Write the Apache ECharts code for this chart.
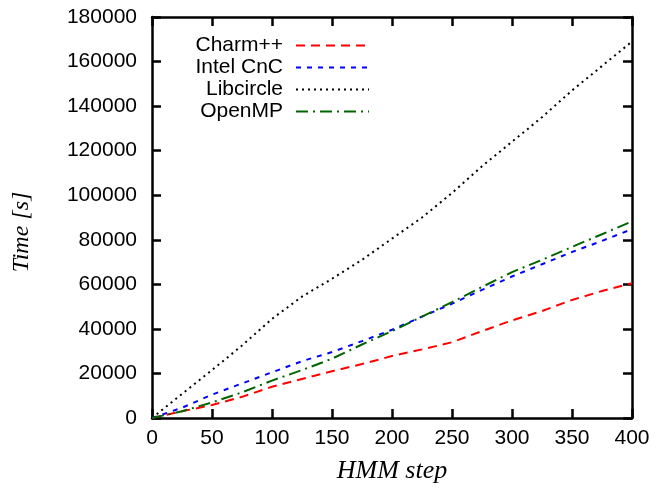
<!DOCTYPE html>
<html>
<head>
<meta charset="utf-8">
<script src="https://cdn.jsdelivr.net/npm/echarts@6/dist/echarts.min.js"></script>
<style>html,body{margin:0;padding:0;background:#fff;}#c{width:656px;height:488px;}</style>
</head>
<body>
<div id="c"></div>
<script>
var steps = [0, 25, 50, 75, 100, 125, 150, 175, 200, 225, 250, 275, 300, 325, 350, 375, 400];
var charm = [0, 3000, 5800, 9500, 14000, 17500, 21000, 24200, 27800, 30800, 34000, 39000, 43800, 48000, 53000, 57000, 60500];
var cnc = [0, 4600, 10500, 15500, 20500, 25500, 29600, 34500, 39600, 45500, 51300, 57500, 63500, 69000, 74500, 79500, 84800];
var libcircle = [0, 10800, 21500, 32500, 44500, 54500, 62500, 71000, 80500, 90000, 101000, 113000, 124000, 135000, 147000, 158000, 169000];
var openmp = [0, 3000, 7000, 11500, 16800, 21500, 26600, 33000, 39000, 45500, 52000, 58800, 65500, 71000, 76800, 82500, 88300];
var names = ['Charm++', 'Intel CnC', 'Libcircle', 'OpenMP'];
var colors = ['#ff0000', '#0000ff', '#000000', '#006400'];
var dashes = [[9, 6], [5, 6], [2, 4], [12, 5, 2, 5]];
var seriesData = [charm, cnc, libcircle, openmp];

function pairs(arr) { return steps.map(function (s, i) { return [s, arr[i]]; }); }

var chart = echarts.init(document.getElementById('c'));
var font = '"Liberation Sans", Arial, sans-serif';
var serif = '"Liberation Serif", "Times New Roman", serif';

var legends = names.map(function (n, i) {
  return {
    data: [n],
    right: 286,
    top: 35 + i * 22,
    align: 'right',
    itemWidth: 73,
    itemHeight: 20,
    padding: 0,
    selectedMode: false,
    itemStyle: { opacity: 0 },
    textStyle: { fontFamily: font, fontSize: 21, color: '#000', padding: [0, 8, 0, 0] }
  };
});

function axisLine() { return { show: true, onZero: false, lineStyle: { color: '#000', width: 2.5 } }; }
function ticksIn() { return { show: true, inside: true, length: 9, lineStyle: { color: '#000', width: 2.5 } }; }
function ticksFlip() { return { show: true, inside: false, length: -9, lineStyle: { color: '#000', width: 2.5 } }; }
function plain(v) { return String(v); }

chart.setOption({
  animation: false,
  backgroundColor: '#fff',
  legend: legends,
  grid: { left: 152, right: 24, top: 17, bottom: 70, containLabel: false },
  xAxis: [
    { type: 'value', min: 0, max: 400, interval: 50, axisLine: axisLine(), axisTick: ticksIn(),
      splitLine: { show: false },
      axisLabel: { fontFamily: font, fontSize: 21, color: '#000', margin: 10, formatter: plain } },
    { type: 'value', position: 'top', min: 0, max: 400, interval: 50, axisLine: axisLine(), axisTick: ticksIn(),
      splitLine: { show: false }, axisLabel: { show: false } }
  ],
  yAxis: [
    { type: 'value', position: 'left', min: 0, max: 180000, interval: 20000, axisLine: axisLine(), axisTick: ticksFlip(),
      splitLine: { show: false },
      axisLabel: { fontFamily: font, fontSize: 21, color: '#000', margin: 15, formatter: plain } },
    { type: 'value', position: 'right', min: 0, max: 180000, interval: 20000, axisLine: axisLine(), axisTick: ticksFlip(),
      splitLine: { show: false }, axisLabel: { show: false } }
  ],
  graphic: [
    { type: 'text', x: 392, y: 471, style: { text: 'HMM step', font: 'italic 26px ' + serif, fill: '#000', align: 'center', verticalAlign: 'middle' } },
    { type: 'text', x: 22, y: 232, rotation: Math.PI / 2, style: { text: 'Time [s]', font: 'italic 24px ' + serif, fill: '#000', align: 'center', verticalAlign: 'middle' } }
  ],
  series: names.map(function (n, i) {
    return {
      name: n, type: 'line', data: pairs(seriesData[i]), symbol: 'none', showSymbol: false,
      color: colors[i],
      lineStyle: { color: colors[i], width: 2, type: dashes[i] }
    };
  })
});
</script>
</body>
</html>
